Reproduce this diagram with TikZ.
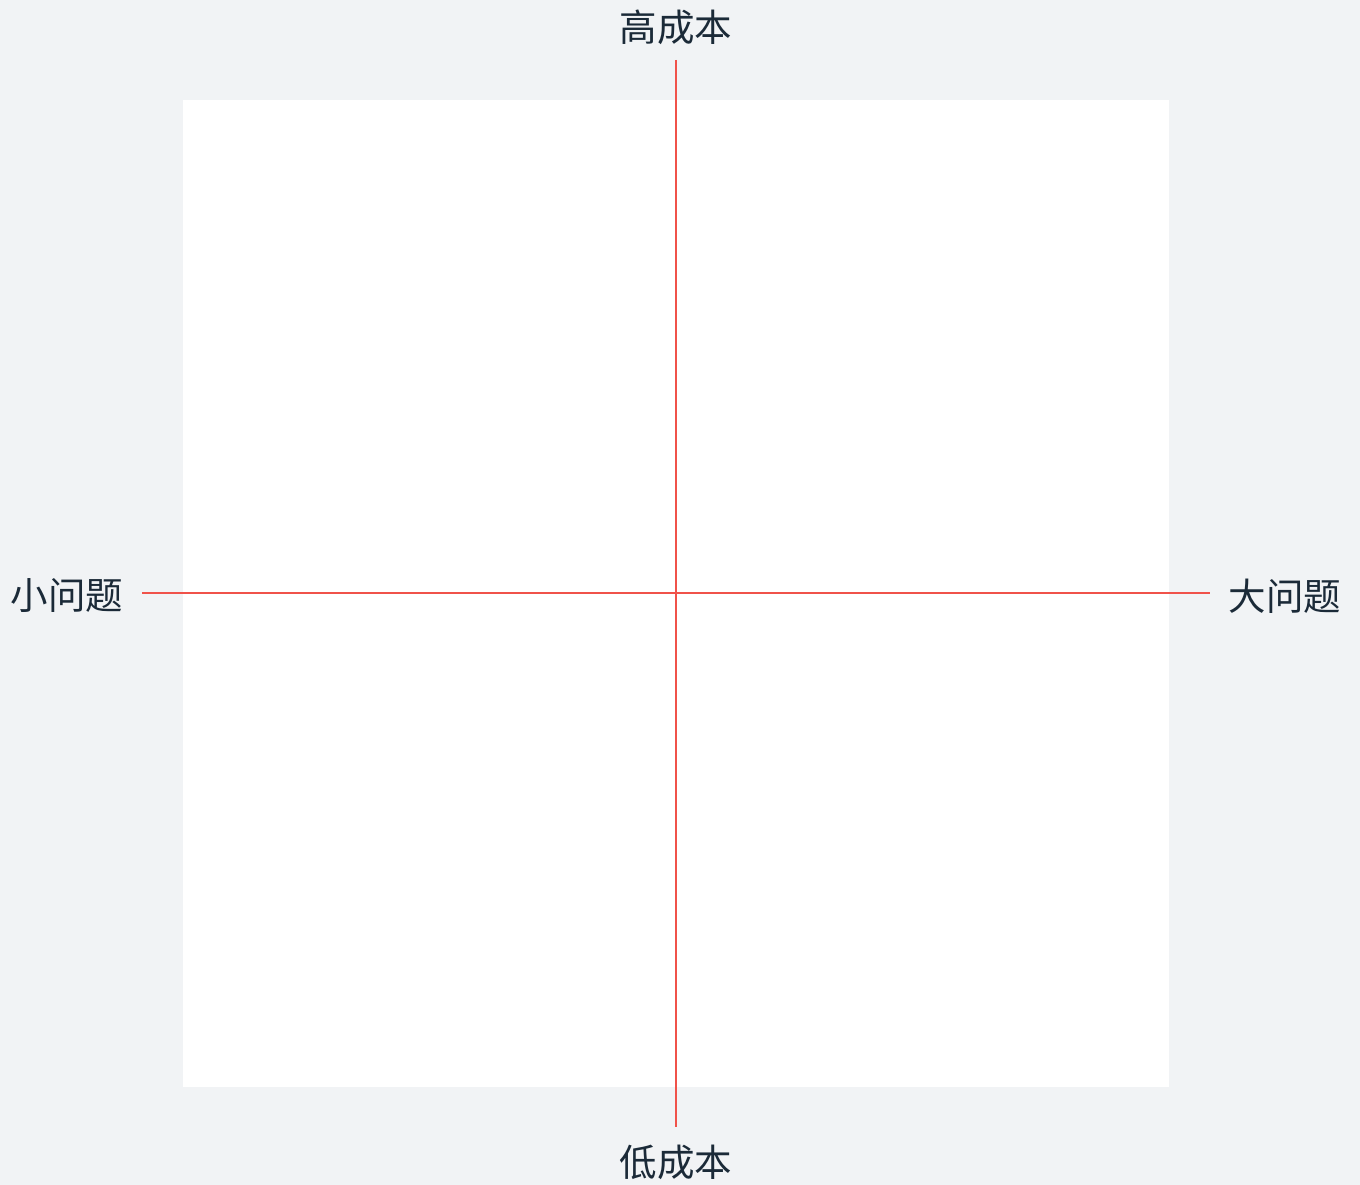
\documentclass[tikz,border=0pt]{standalone}
\usepackage{fontspec}
\newfontfamily\cjk{Noto Sans CJK SC}
\definecolor{bgc}{HTML}{F1F3F5}
\definecolor{axisc}{HTML}{F0524A}
\definecolor{txtc}{HTML}{1B2A38}
\begin{document}
\begin{tikzpicture}[x=1pt,y=-1pt,
  axislabel/.style={font=\cjk\fontsize{37.5}{42}\selectfont, text=txtc, inner sep=0pt},
  axisline/.style={draw=axisc, line width=2.2pt}]
\fill[bgc] (0,0) rectangle (1360,1185);
\useasboundingbox (0,0) rectangle (1360,1185);
\fill[white] (183,100) rectangle (1169,1087);
\node[axislabel] (top) at (676,27) {高成本};
\node[axislabel] (bottom) at (676,1162) {低成本};
\node[axislabel] (left) at (67,596) {小问题};
\node[axislabel] (right) at (1285,596) {大问题};
\coordinate (vt) at (676,60);
\coordinate (vb) at (676,1127);
\coordinate (hl) at (142,593);
\coordinate (hr) at (1210,593);
\draw[axisline] (vt) -- (vb);
\draw[axisline] (hl) -- (hr);
\end{tikzpicture}
\end{document}
